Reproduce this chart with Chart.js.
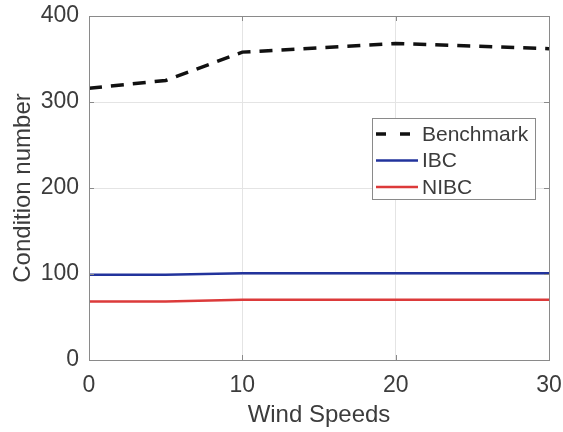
<!DOCTYPE html>
<html>
<head>
<meta charset="utf-8">
<script src="https://cdn.jsdelivr.net/npm/chart.js@4/dist/chart.umd.min.js"></script>
<style>
  html, body { margin: 0; padding: 0; background: #fff; }
  #wrap { width: 563px; height: 432px; }
</style>
</head>
<body>
<div id="wrap"><canvas id="condChart" width="563" height="432"></canvas></div>
<script>
// wind speed samples and condition numbers for each controller
const windSpeeds = [0, 5, 10, 15, 20, 25, 30];
const benchmark = [316, 325, 358, 363, 368, 365, 362];
const ibc = [99, 99, 101, 101, 101, 101, 101];
const nibc = [68, 68, 70, 70, 70, 70, 70];
const seriesLabels = ["Benchmark", "IBC", "NIBC"];

const FONT = "'Liberation Sans', Arial, Helvetica, sans-serif";
const TEXT = "#3c3c3c";
const BOX = "#8a8a8a";

function toPoints(ys) {
  return windSpeeds.map((x, i) => ({ x: x, y: ys[i] }));
}

// matlab style box with ticks pointing inward
const boxPlugin = {
  id: "box",
  afterDatasetsDraw(chart) {
    const { ctx, chartArea: a, scales } = chart;
    ctx.save();
    ctx.strokeStyle = BOX;
    ctx.lineWidth = 1;
    ctx.strokeRect(a.left + 0.5, a.top + 0.5, a.right - a.left, a.bottom - a.top);
    const len = 5;
    ctx.beginPath();
    scales.x.ticks.forEach(t => {
      const px = Math.round(scales.x.getPixelForValue(t.value)) + 0.5;
      ctx.moveTo(px, a.bottom); ctx.lineTo(px, a.bottom - len);
      ctx.moveTo(px, a.top); ctx.lineTo(px, a.top + len);
    });
    scales.y.ticks.forEach(t => {
      const py = Math.round(scales.y.getPixelForValue(t.value)) + 0.5;
      ctx.moveTo(a.left, py); ctx.lineTo(a.left + len, py);
      ctx.moveTo(a.right, py); ctx.lineTo(a.right - len, py);
    });
    ctx.stroke();
    ctx.restore();
  }
};

// legend box inside the plot, upper right
const legendPlugin = {
  id: "insideLegend",
  afterDraw(chart) {
    const { ctx, chartArea: a } = chart;
    const left = a.right - 177, top = a.top + 102, w = 163, h = 81;
    ctx.save();
    ctx.fillStyle = "#fff";
    ctx.fillRect(left, top, w, h);
    ctx.strokeStyle = BOX;
    ctx.lineWidth = 1;
    ctx.strokeRect(left + 0.5, top + 0.5, w, h);
    ctx.font = "21px " + FONT;
    ctx.textBaseline = "middle";
    ctx.fillStyle = TEXT;
    chart.data.datasets.forEach((ds, i) => {
      const y = top + 16 + i * 26.5;
      ctx.beginPath();
      ctx.strokeStyle = ds.borderColor;
      ctx.lineWidth = ds.borderWidth;
      ctx.setLineDash(ds.borderDash ? [10, 14] : []);
      ctx.moveTo(left + 4, y);
      ctx.lineTo(left + 46, y);
      ctx.stroke();
      ctx.setLineDash([]);
      ctx.fillText(ds.label, left + 50, y + 1);
    });
    ctx.restore();
  }
};

new Chart(document.getElementById("condChart"), {
  type: "line",
  data: {
    datasets: [
      {
        label: seriesLabels[0],
        data: toPoints(benchmark),
        borderColor: "#111111",
        borderWidth: 3.5,
        borderDash: [13, 9]
      },
      {
        label: seriesLabels[1],
        data: toPoints(ibc),
        borderColor: "#22339c",
        borderWidth: 2.5
      },
      {
        label: seriesLabels[2],
        data: toPoints(nibc),
        borderColor: "#dc3a3a",
        borderWidth: 2.5
      }
    ]
  },
  options: {
    responsive: false,
    animation: false,
    devicePixelRatio: 1,
    layout: { padding: { left: 0, right: 14, top: 16, bottom: 0 } },
    elements: { point: { radius: 0 }, line: { tension: 0 } },
    plugins: { legend: { display: false }, tooltip: { enabled: false } },
    scales: {
      x: {
        type: "linear",
        min: 0,
        max: 30,
        afterFit: s => {
          s.height = 72;
          s.paddingLeft = 0;
          s.paddingRight = 0;
        },
        ticks: { stepSize: 10, padding: 12, color: TEXT, font: { family: FONT, size: 23 } },
        grid: { color: "#e4e4e4", drawTicks: false },
        border: { display: false },
        title: {
          display: true,
          text: "Wind Speeds",
          color: TEXT,
          font: { family: FONT, size: 24 },
          padding: { top: 0, bottom: 2 }
        }
      },
      y: {
        min: 0,
        max: 400,
        afterFit: s => {
          s.width = 89;
          s.paddingTop = 0;
          s.paddingBottom = 0;
        },
        ticks: { stepSize: 100, padding: 10, color: TEXT, font: { family: FONT, size: 23 } },
        grid: { color: "#e4e4e4", drawTicks: false },
        border: { display: false },
        title: {
          display: true,
          text: "Condition number",
          color: TEXT,
          font: { family: FONT, size: 24 },
          padding: { top: 9, bottom: 0 }
        }
      }
    }
  },
  plugins: [boxPlugin, legendPlugin]
});
</script>
</body>
</html>
